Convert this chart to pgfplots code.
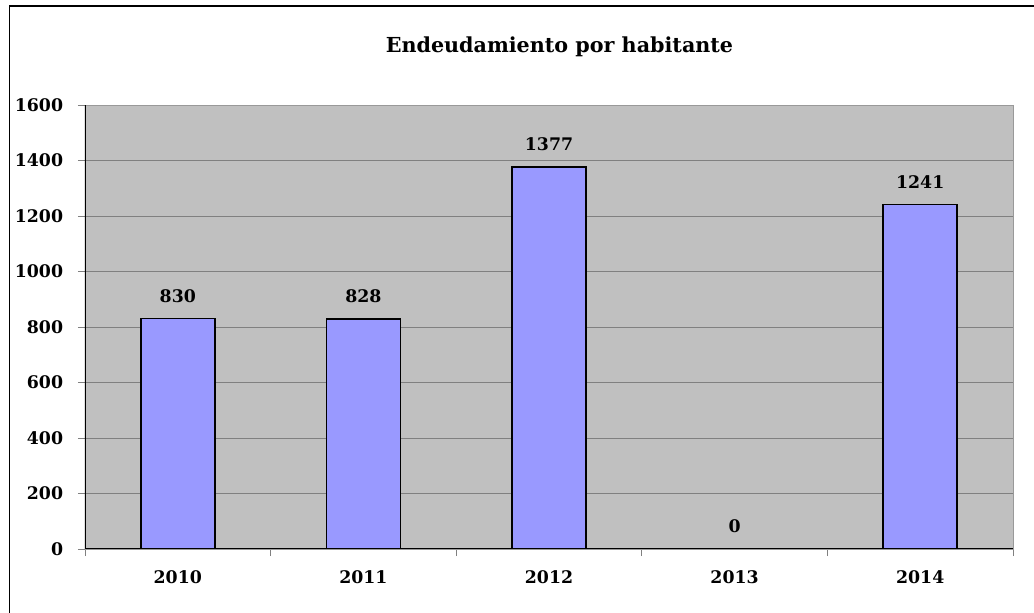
\documentclass[border=0pt]{standalone}
\usepackage{pgfplots}
\pgfplotsset{compat=1.18}
\usepackage{fontspec}
\setmainfont{DejaVu Serif}
\definecolor{barfill}{HTML}{9999FF}
\definecolor{plotbg}{HTML}{C0C0C0}
\definecolor{gridc}{HTML}{808080}
\begin{document}
\begin{tikzpicture}
\path[use as bounding box] (0,0) rectangle (775.5pt,459.75pt);
\draw[black, line width=0.9pt] (7.1pt,0) -- (7.1pt,455.25pt) -- (775.5pt,455.25pt);
\node[font=\fontsize{15.5}{18}\selectfont\bfseries] at (419.6pt,424.5pt) {Endeudamiento por habitante};
\begin{axis}[
  at={(63.75pt,48pt)}, anchor=south west,
  scale only axis, width=696pt, height=333pt,
  xmin=-0.5, xmax=4.5, ymin=0, ymax=1600,
  ytick={0,200,...,1600},
  xtick={0,1,2,3,4},
  xticklabels={2010,2011,2012,2013,2014},
  minor xtick={-0.5,0.5,1.5,2.5,3.5,4.5},
  xtick pos=bottom, ytick pos=left,
  major x tick style={draw=none},
  minor x tick style={draw=gray, line width=0.6pt},
  major y tick style={draw=gray, line width=0.6pt},
  tick align=outside,
  major tick length=5.25pt, minor tick length=5.25pt,
  ymajorgrids, grid style={draw=gridc, line width=0.7pt},
  axis background/.style={fill=plotbg},
  axis line style={draw=gray!80, line width=0.7pt},
  ticklabel style={font=\fontsize{13}{15}\selectfont\bfseries},
  /pgf/number format/assume math mode=true,
  /pgf/number format/1000 sep={},
  yticklabel style={inner sep=0pt, xshift=-11pt},
  xticklabel style={inner sep=0pt, yshift=-10.5pt},
  ybar, bar width=55.5pt,
  nodes near coords,
  nodes near coords style={font=\fontsize{13}{15}\selectfont\bfseries, anchor=south, inner sep=0pt, yshift=11.5pt, /pgf/number format/1000 sep={}},
]
\addplot[fill=barfill, draw=black, line width=1.1pt] coordinates {(0,830) (1,828) (2,1377) (3,0) (4,1241)};
\draw[black, line width=1pt] (rel axis cs:0,0) -- (rel axis cs:0,1);
\draw[black, line width=1pt] (rel axis cs:0,0) -- (rel axis cs:1,0);
\end{axis}
\end{tikzpicture}
\end{document}
